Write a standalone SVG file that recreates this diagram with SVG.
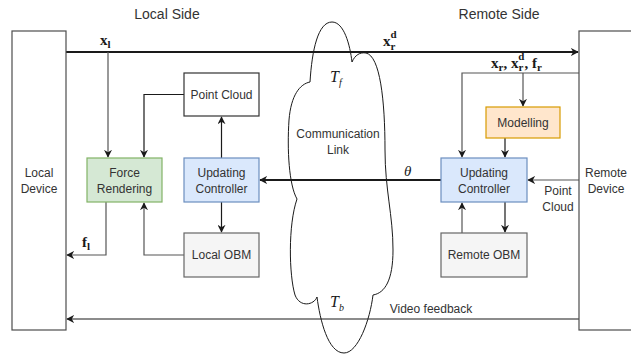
<svg xmlns="http://www.w3.org/2000/svg" width="631" height="354" viewBox="0 0 631 354">
  <defs>
    <marker id="arr" viewBox="0 0 10 10" refX="9" refY="5" markerWidth="8" markerHeight="8" markerUnits="userSpaceOnUse" orient="auto">
      <path d="M0,0 L10,5 L0,10 L3,5 Z" fill="#1a1a1a"/>
    </marker>
  </defs>
  <style>
    .box { stroke-width: 1.2; }
    .dev { fill: #ffffff; stroke: #4d4d4d; }
    .plain { fill: #ffffff; stroke: #333333; }
    .green { fill: #d5e8d4; stroke: #82b366; }
    .blue { fill: #dae8fc; stroke: #6c8ebf; }
    .grey { fill: #f5f5f5; stroke: #666666; }
    .orange { fill: #ffe6cc; stroke: #d79b00; }
    .lbl { font-family: "Liberation Sans", Arial, sans-serif; font-size: 12px; fill: #333333; text-anchor: middle; }
    .title { font-family: "Liberation Sans", Arial, sans-serif; font-size: 14px; fill: #333333; text-anchor: middle; }
    .math { font-family: "Liberation Serif", "DejaVu Serif", serif; fill: #1a1a1a; }
    .thin { fill: none; stroke: #555555; stroke-width: 1.2; }
    .dark { fill: none; stroke: #1a1a1a; stroke-width: 1.2; }
    .thick { fill: none; stroke: #1a1a1a; stroke-width: 2.2; }
  </style>

  <!-- titles -->
  <text class="title" x="167" y="19">Local Side</text>
  <text class="title" x="499" y="19">Remote Side</text>

  <!-- communication link cloud -->
  <g id="cloud">
    <path d="M310,82 C312,50 318,22 332,22 C344,22 350,45 352,62 C355,55 360,52 366,53 C380,56 385,100 385,150 C385,190 393,215 393,250 C393,280 385,293 373,295 C370,320 358,353 344,353 C328,353 320,320 317,297 C314,305 300,308 295,295 C289,275 288,225 297,199 C289,185 287,150 289,120 C291,95 300,84 310,82 Z" fill="none" stroke="#1a1a1a" stroke-width="1"/>
    <text class="lbl" x="338" y="138">Communication</text>
    <text class="lbl" x="338" y="154">Link</text>
    <text class="math" x="330" y="82" font-size="16" font-style="italic">T<tspan font-size="10" dy="4">f</tspan></text>
    <text class="math" x="330" y="307" font-size="16" font-style="italic">T<tspan font-size="10" dy="4">b</tspan></text>
  </g>

  <!-- connectors -->
  <g id="connectors">
    <path class="thick" d="M66,52 L578,52" marker-end="url(#arr)"/>
    <path class="thin" d="M108,52 L108,157" marker-end="url(#arr)"/>
    <path class="dark" d="M184,94.5 L144,94.5 L144,157" marker-end="url(#arr)"/>
    <path class="dark" d="M221.5,158 L221.5,117" marker-end="url(#arr)"/>
    <path class="dark" d="M221.5,202 L221.5,232" marker-end="url(#arr)"/>
    <path class="thin" d="M184,255 L144,255 L144,203" marker-end="url(#arr)"/>
    <path class="thin" d="M106,202 L106,255 L67,255" marker-end="url(#arr)"/>
    <path class="thick" d="M441,180 L260,180" marker-end="url(#arr)"/>
    <path class="thin" d="M579,73 L462,73 L462,157" marker-end="url(#arr)"/>
    <path class="thin" d="M523,73 L523,106" marker-end="url(#arr)"/>
    <path class="dark" d="M505,138 L505,157" marker-end="url(#arr)"/>
    <path class="thin" d="M579,180 L528,180" marker-end="url(#arr)"/>
    <path class="thin" d="M462,233 L462,203" marker-end="url(#arr)"/>
    <path class="dark" d="M505,202 L505,232" marker-end="url(#arr)"/>
    <path class="dark" d="M579,319 L67,319" marker-end="url(#arr)"/>

    <text class="math" x="100" y="45" font-size="15" font-weight="bold">x<tspan font-size="11" dy="3">l</tspan></text>
    <text class="math" x="383" y="46" font-size="15" font-weight="bold">x<tspan font-size="11" dy="4">r</tspan><tspan font-size="11" dx="-5" dy="-12">d</tspan></text>
    <text class="math" x="491" y="68" font-size="15" font-weight="bold">x<tspan font-size="11" dy="3">r</tspan><tspan dy="-3">, x</tspan><tspan font-size="11" dy="3">r</tspan><tspan font-size="11" dx="-5" dy="-11">d</tspan><tspan dy="8">, f</tspan><tspan font-size="11" dy="3">r</tspan></text>
    <text class="math" x="82" y="247" font-size="15" font-weight="bold">f<tspan font-size="11" dy="3">l</tspan></text>
    <text class="math" x="404" y="176" font-size="15" font-style="italic">θ</text>
    <text class="lbl" x="558" y="195">Point</text>
    <text class="lbl" x="558" y="211">Cloud</text>
    <text class="lbl" x="431" y="313" font-size="11">Video feedback</text>
  </g>

  <!-- nodes -->
  <g id="local-device">
    <rect class="box dev" x="12" y="31" width="54" height="299"/>
    <text class="lbl" x="39" y="177">Local</text>
    <text class="lbl" x="39" y="193">Device</text>
  </g>
  <g id="remote-device">
    <rect class="box dev" x="579" y="31" width="56" height="299"/>
    <text class="lbl" x="606" y="177">Remote</text>
    <text class="lbl" x="606" y="193">Device</text>
  </g>
  <g id="point-cloud">
    <rect class="box plain" x="184" y="73" width="75" height="43"/>
    <text class="lbl" x="221.5" y="99">Point Cloud</text>
  </g>
  <g id="force-rendering">
    <rect class="box green" x="87" y="158" width="75" height="44"/>
    <text class="lbl" x="124.5" y="177">Force</text>
    <text class="lbl" x="124.5" y="193">Rendering</text>
  </g>
  <g id="local-controller">
    <rect class="box blue" x="184" y="158" width="75" height="44"/>
    <text class="lbl" x="221.5" y="177">Updating</text>
    <text class="lbl" x="221.5" y="193">Controller</text>
  </g>
  <g id="local-obm">
    <rect class="box grey" x="184" y="233" width="75" height="44"/>
    <text class="lbl" x="221.5" y="259">Local OBM</text>
  </g>
  <g id="modelling">
    <rect class="box orange" x="486" y="107" width="74" height="31"/>
    <text class="lbl" x="523" y="127">Modelling</text>
  </g>
  <g id="remote-controller">
    <rect class="box blue" x="441" y="158" width="86" height="44"/>
    <text class="lbl" x="484" y="177">Updating</text>
    <text class="lbl" x="484" y="193">Controller</text>
  </g>
  <g id="remote-obm">
    <rect class="box grey" x="441" y="233" width="86" height="44"/>
    <text class="lbl" x="484" y="259">Remote OBM</text>
  </g>
</svg>
